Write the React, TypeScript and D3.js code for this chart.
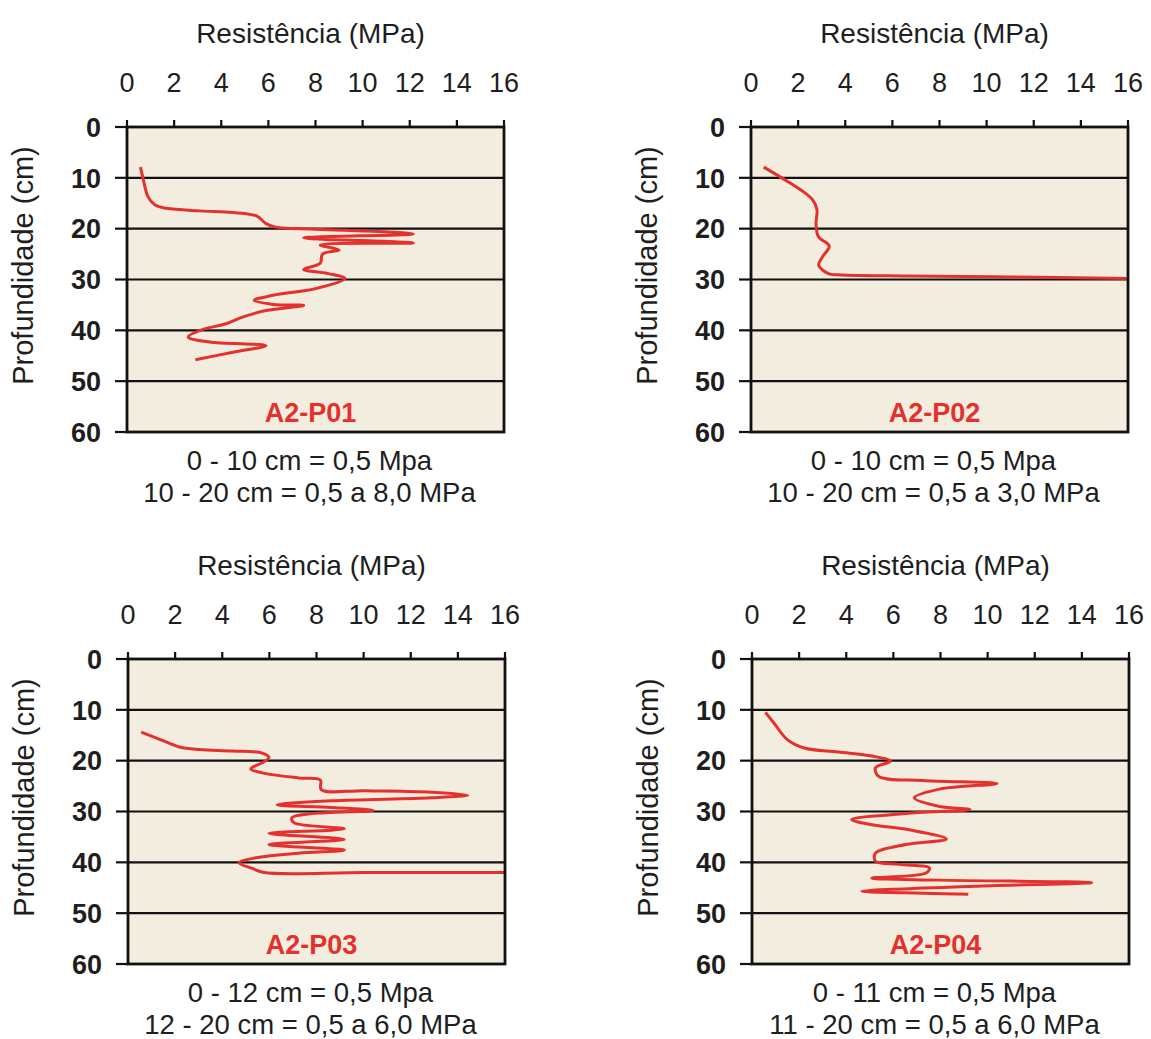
import React from "react";
import * as d3 from "d3";

// penetration resistance profiles (MPa) against depth (cm)
const xTicks = [0, 2, 4, 6, 8, 10, 12, 14, 16];
const yTicks = [0, 10, 20, 30, 40, 50, 60];

const p01Res = [0.57, 0.68, 0.89, 1.18, 1.67, 3.1, 4.5, 5.5, 5.9, 6.3, 8.0, 10.9, 12.15, 7.5, 12.15, 8.2, 9.0, 8.3, 8.2, 7.5, 8.5, 9.25, 8.0, 6.2, 5.4, 6.2, 7.5, 5.9, 4.9, 4.2, 3.1, 2.6, 3.5, 5.9, 4.5, 2.9];
const p01Dep = [7.9, 10.1, 13.7, 15.3, 16.0, 16.5, 16.8, 17.5, 19.0, 19.7, 20.1, 20.6, 21.05, 21.8, 22.8, 23.2, 24.2, 25.0, 26.8, 28.0, 28.8, 29.8, 31.8, 33.1, 34.1, 34.9, 35.1, 36.1, 37.4, 38.7, 40.0, 41.3, 42.3, 43.0, 44.3, 45.8];

const p02Res = [0.54, 1.41, 2.12, 2.61, 2.8, 2.76, 2.86, 3.32, 3.04, 2.87, 3.32, 3.82, 6.6, 10.9, 16];
const p02Dep = [7.9, 10.3, 12.4, 14.3, 16.3, 19.0, 21.6, 23.4, 25.5, 27.2, 28.9, 29.1, 29.3, 29.5, 29.8];

const p03Res = [0.56, 1.34, 2.18, 3.03, 4.43, 5.7, 5.98, 5.7, 5.21, 5.7, 7.24, 8.16, 8.2, 10.06, 12.87, 14.42, 12.87, 8.65, 6.33, 8.65, 10.41, 7.81, 6.96, 7.04, 9.18, 5.98, 9.18, 5.98, 9.18, 7.24, 5.42, 4.71, 5.28, 5.77, 10.06, 16];
const p03Dep = [14.4, 15.8, 17.3, 17.8, 18.1, 18.5, 19.4, 20.4, 21.6, 22.4, 23.4, 23.8, 25.7, 25.9, 26.2, 26.8, 27.3, 27.9, 28.7, 29.2, 29.8, 30.4, 31.2, 32.2, 33.4, 34.3, 35.5, 36.5, 37.6, 38.2, 39.1, 40.1, 41.2, 42.0, 42.0, 42.0];

const p04Res = [0.57, 0.93, 1.51, 2.22, 3.66, 5.09, 5.88, 5.24, 5.38, 7.25, 10.4, 7.96, 6.89, 7.96, 9.25, 6.53, 4.23, 5.09, 6.67, 8.25, 6.53, 5.24, 5.24, 6.24, 7.53, 7.39, 5.09, 7.96, 14.42, 9.4, 4.66, 6.53, 9.18];
const p04Dep = [10.5, 12.6, 15.9, 17.5, 18.3, 19.1, 20.1, 21.4, 23.1, 23.9, 24.5, 25.6, 27.3, 29.0, 29.6, 30.4, 31.6, 32.6, 33.6, 35.4, 36.5, 38.2, 39.8, 40.4, 41.1, 42.1, 43.1, 43.5, 44.0, 44.7, 45.7, 46.0, 46.3];

const panelNames = ["A2-P01", "A2-P02", "A2-P03", "A2-P04"];
const noteLine1 = ["0 - 10 cm = 0,5 Mpa", "0 - 10 cm = 0,5 Mpa", "0 - 12 cm = 0,5 Mpa", "0 - 11 cm = 0,5 Mpa"];
const noteLine2 = ["10 - 20 cm = 0,5 a 8,0 MPa", "10 - 20 cm = 0,5 a 3,0 MPa", "12 - 20 cm = 0,5 a 6,0 MPa", "11 - 20 cm = 0,5 a 6,0 MPa"];

const series = [
  [p01Res, p01Dep],
  [p02Res, p02Dep],
  [p03Res, p03Dep],
  [p04Res, p04Dep],
];

const W = 1151;
const H = 1039;
const PW = 377;
const PH = 305;
const origins: [number, number][] = [
  [127, 127],
  [751, 127],
  [128, 659],
  [752, 659],
];

const FONT = "'Liberation Sans', Arial, sans-serif";
const TEXT = "#1e1e1e";
const RED = "#e4312d";
const BG = "#f2eddf";

function Panel({ idx }: { idx: number }) {
  const [ox, oy] = origins[idx];
  const x = d3.scaleLinear().domain([0, 16]).range([0, PW]);
  const y = d3.scaleLinear().domain([0, 60]).range([0, PH]);
  const [res, dep] = series[idx];
  const pts = res.map((r, i) => [r, dep[i]] as [number, number]);
  const line = d3
    .line<[number, number]>()
    .x((d) => x(d[0]))
    .y((d) => y(d[1]))
    .curve(d3.curveCatmullRom.alpha(0.5));
  const clipId = `clip-${idx}`;
  return (
    <g transform={`translate(${ox},${oy})`} fontFamily={FONT} fill={TEXT}>
      <defs>
        <clipPath id={clipId}>
          <rect x={0} y={0} width={PW} height={PH} />
        </clipPath>
      </defs>
      <rect x={0} y={0} width={PW} height={PH} fill={BG} />
      {yTicks.slice(1, -1).map((t) => (
        <line key={t} x1={0} x2={PW} y1={y(t)} y2={y(t)} stroke="#111" strokeWidth={2.2} />
      ))}
      <path d={line(pts) || ""} fill="none" stroke={RED} strokeWidth={3} clipPath={`url(#${clipId})`} strokeLinejoin="round" />
      <rect x={0} y={0} width={PW} height={PH} fill="none" stroke="#111" strokeWidth={2.8} />
      {xTicks.map((t) => (
        <g key={t}>
          <line x1={x(t)} x2={x(t)} y1={-7} y2={0} stroke="#111" strokeWidth={2.2} />
          <text x={x(t)} y={-35} textAnchor="middle" fontSize={27}>
            {t}
          </text>
        </g>
      ))}
      {yTicks.map((t) => (
        <g key={t}>
          <line x1={-12} x2={0} y1={y(t)} y2={y(t)} stroke="#111" strokeWidth={2.2} />
          <text x={-26} y={y(t)} dy="0.36em" textAnchor="end" fontSize={27} fontWeight="bold">
            {t}
          </text>
        </g>
      ))}
      <text x={PW / 2 - 5} y={-84} textAnchor="middle" fontSize={28}>
        Resistência (MPa)
      </text>
      <text
        transform={`translate(${-104},${PH / 2 - 14}) rotate(-90)`}
        textAnchor="middle"
        dy="0.36em"
        fontSize={29}
      >
        Profundidade (cm)
      </text>
      <text x={PW / 2 - 5} y={y(58)} textAnchor="middle" fontSize={27} fontWeight="bold" fill={RED}>
        {panelNames[idx]}
      </text>
      <text x={PW / 2 - 6} y={PH + 38} textAnchor="middle" fontSize={27.5}>
        {noteLine1[idx]}
      </text>
      <text x={PW / 2 - 6} y={PH + 70} textAnchor="middle" fontSize={27.5}>
        {noteLine2[idx]}
      </text>
    </g>
  );
}

export default function App() {
  return (
    <svg
      width={W}
      height={H}
      viewBox={`0 0 ${W} ${H}`}
      style={{ position: "absolute", left: 0, top: 0, background: "#fff" }}
    >
      {panelNames.map((_, i) => (
        <Panel key={i} idx={i} />
      ))}
    </svg>
  );
}
